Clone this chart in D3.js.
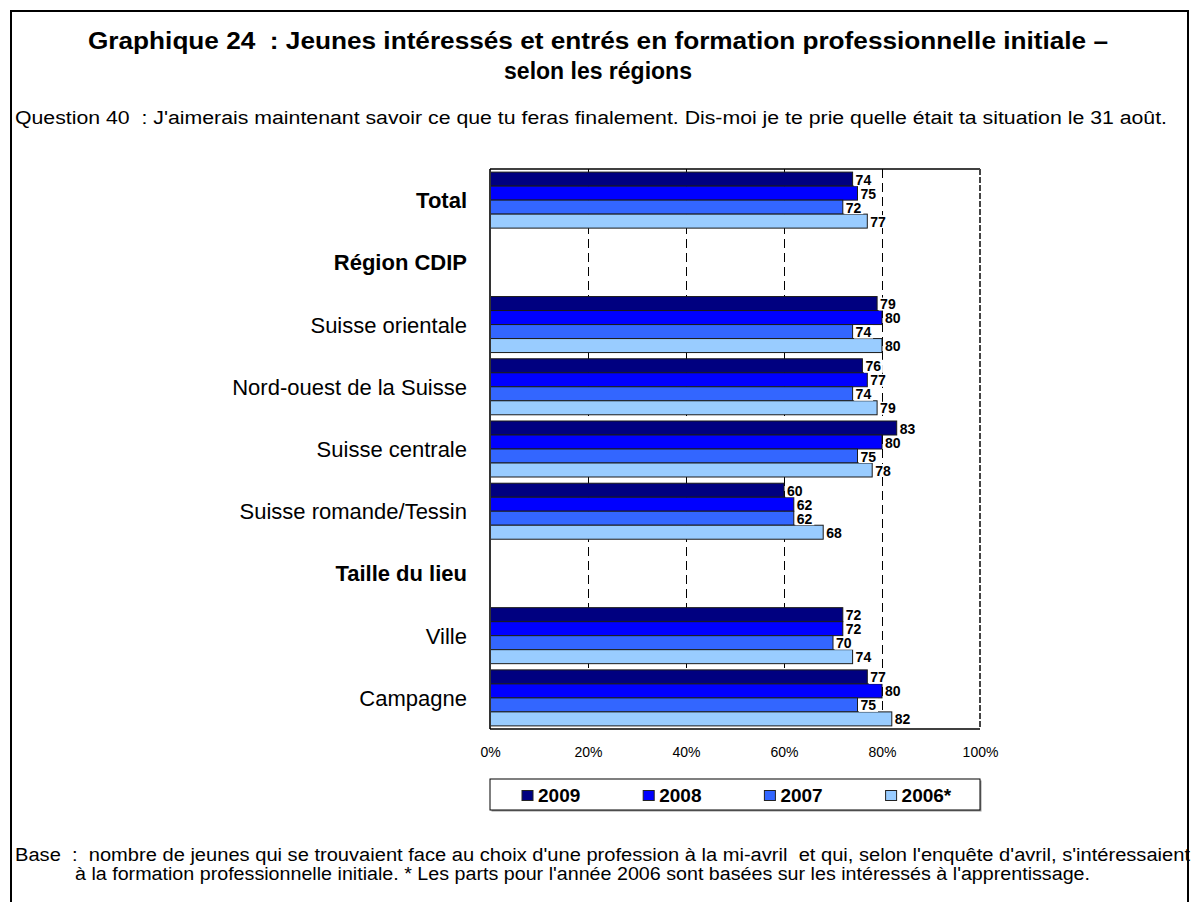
<!DOCTYPE html>
<html>
<head>
<meta charset="utf-8">
<title>Graphique 24</title>
<script src="https://d3js.org/d3.v7.min.js"></script>
<style>
  body { margin: 0; background: #fff; }
  text { font-family: "Liberation Sans", Arial, sans-serif; white-space: pre; }
</style>
</head>
<body>
<div id="chart"></div>
<script>
// data
const categories = ["Total", "Région CDIP", "Suisse orientale", "Nord-ouest de la Suisse",
  "Suisse centrale", "Suisse romande/Tessin", "Taille du lieu", "Ville", "Campagne"];
const boldCats = ["Total", "Région CDIP", "Taille du lieu"];
const years = ["2009", "2008", "2007", "2006*"];
const v2009 = [74, null, 79, 76, 83, 60, null, 72, 77];
const v2008 = [75, null, 80, 77, 80, 62, null, 72, 80];
const v2007 = [72, null, 74, 74, 75, 62, null, 70, 75];
const v2006 = [77, null, 80, 79, 78, 68, null, 74, 82];
const series = [v2009, v2008, v2007, v2006];
const colors = ["#000080", "#0000ff", "#3366ff", "#99ccff"];
const xTicks = [0, 20, 40, 60, 80, 100];

const titleLines = ["Graphique 24  : Jeunes intéressés et entrés en formation professionnelle initiale –",
  "selon les régions"];
const question = "Question 40  : J'aimerais maintenant savoir ce que tu feras finalement. Dis-moi je te prie quelle était ta situation le 31 août.";
const footer1 = "Base  :  nombre de jeunes qui se trouvaient face au choix d'une profession à la mi-avril  et qui, selon l'enquête d'avril, s'intéressaient";
const footer2 = "à la formation professionnelle initiale. * Les parts pour l'année 2006 sont basées sur les intéressés à l'apprentissage.";

const W = 1197, H = 902;
const svg = d3.select("#chart").append("svg")
  .attr("width", W).attr("height", H);

// outer frame
svg.append("rect")
  .attr("x", 11).attr("y", 11).attr("width", 1177).attr("height", 920)
  .attr("fill", "none").attr("stroke", "#000").attr("stroke-width", 2);

// title
svg.append("text")
  .attr("x", 88).attr("y", 49)
  .attr("textLength", 1020).attr("lengthAdjust", "spacingAndGlyphs")
  .style("font-size", "23px").style("font-weight", "bold")
  .text(titleLines[0]);
svg.append("text")
  .attr("x", 598).attr("y", 79)
  .attr("text-anchor", "middle")
  .style("font-size", "23px").style("font-weight", "bold")
  .text(titleLines[1]);

svg.append("text")
  .attr("x", 15).attr("y", 124)
  .attr("textLength", 1152).attr("lengthAdjust", "spacingAndGlyphs")
  .style("font-size", "18px")
  .text(question);

// plot area
const pLeft = 490, pRight = 980, pTop = 169, pBottom = 729;

const x = d3.scaleLinear().domain([0, 100]).range([pLeft, pRight]);
const y = d3.scaleBand().domain(categories).range([pTop, pBottom])
  .paddingInner(0.1).paddingOuter(0.05);
const y2 = d3.scaleBand().domain(years).range([0, y.bandwidth()]);

// gridlines
svg.append("g").selectAll("line").data(xTicks.filter(t => t > 0 && t < 100)).join("line")
  .attr("x1", d => Math.round(x(d)) + 0.5).attr("x2", d => Math.round(x(d)) + 0.5)
  .attr("y1", pTop).attr("y2", pBottom)
  .attr("stroke", "#000").attr("stroke-width", 1)
  .attr("stroke-dasharray", "9,5");

// bars
const groups = svg.append("g").selectAll("g").data(categories).join("g")
  .attr("transform", d => `translate(0,${y(d)})`);

groups.each(function(cat, ci) {
  const g = d3.select(this);
  years.forEach((yr, si) => {
    const v = series[si][ci];
    if (v == null) return;
    g.append("rect")
      .attr("x", x(0)).attr("y", y2(yr))
      .attr("width", x(v) - x(0)).attr("height", y2.bandwidth())
      .attr("fill", colors[si])
      .attr("stroke", "#1a1a1a").attr("stroke-width", 1);
  });
});

// value labels
groups.each(function(cat, ci) {
  const g = d3.select(this);
  years.forEach((yr, si) => {
    const v = series[si][ci];
    if (v == null) return;
    const tx = x(v) + 1.5, ty = y2(yr) + y2.bandwidth() / 2;
    g.append("rect")
      .attr("x", tx).attr("y", ty - 6).attr("width", 19).attr("height", 13)
      .attr("fill", "#fff");
    g.append("text")
      .attr("x", tx + 1.5).attr("y", ty + 5.5)
      .style("font-size", "14px").style("font-weight", "bold")
      .text(v);
  });
});

// frame of plot
svg.append("line").attr("x1", pLeft).attr("x2", pLeft).attr("y1", pTop).attr("y2", pBottom)
  .attr("stroke", "#333").attr("stroke-width", 2);
svg.append("line").attr("x1", pLeft).attr("x2", pRight).attr("y1", pTop).attr("y2", pTop)
  .attr("stroke", "#000").attr("stroke-width", 1.5);
svg.append("line").attr("x1", pLeft).attr("x2", pRight).attr("y1", pBottom).attr("y2", pBottom)
  .attr("stroke", "#000").attr("stroke-width", 1.5);
svg.append("line").attr("x1", pRight).attr("x2", pRight).attr("y1", pTop).attr("y2", pBottom)
  .attr("stroke", "#444").attr("stroke-width", 2).attr("stroke-dasharray", "6,2");

// category labels
svg.append("g").selectAll("text").data(categories).join("text")
  .attr("x", 467).attr("y", d => y(d) + y.bandwidth() / 2 + 8)
  .attr("text-anchor", "end")
  .style("font-size", "22px")
  .style("font-weight", d => boldCats.includes(d) ? "bold" : "normal")
  .text(d => d);

// x axis
const xAxis = svg.append("g")
  .attr("transform", `translate(0,${pBottom})`)
  .call(d3.axisBottom(x).tickValues(xTicks).tickFormat(d => d + "%").tickSize(0).tickPadding(18));
xAxis.select(".domain").remove();
xAxis.selectAll("text").style("font-size", "14px").style("font-family", "Liberation Sans, Arial, sans-serif").attr("fill", "#000");

// legend
const lg = svg.append("g").attr("transform", "translate(490,779)");
lg.append("rect").attr("x", 1.5).attr("y", 1.5).attr("width", 490).attr("height", 31).attr("fill", "#999");
lg.append("rect").attr("width", 490).attr("height", 31).attr("fill", "#fff").attr("stroke", "#000");
years.forEach((yr, i) => {
  const ix = 32 + i * 121.2;
  lg.append("rect").attr("x", ix).attr("y", 11.5).attr("width", 11).attr("height", 10)
    .attr("fill", colors[i]).attr("stroke", "#222");
  lg.append("text").attr("x", ix + 16).attr("y", 23)
    .style("font-size", "19px").style("font-weight", "bold").text(yr);
});

// footer
svg.append("text").attr("x", 15).attr("y", 861)
  .attr("textLength", 1175).attr("lengthAdjust", "spacingAndGlyphs")
  .style("font-size", "18px").text(footer1);
svg.append("text").attr("x", 75).attr("y", 880)
  .attr("textLength", 1015).attr("lengthAdjust", "spacingAndGlyphs")
  .style("font-size", "18px").text(footer2);
</script>
</body>
</html>
